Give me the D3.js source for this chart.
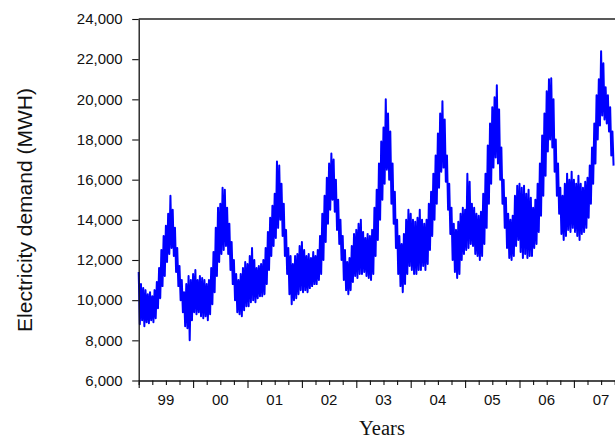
<!DOCTYPE html>
<html>
<head>
<meta charset="utf-8">
<script src="https://cdn.jsdelivr.net/npm/d3@7"></script>
<style>
  html, body { margin: 0; padding: 0; background: #fff; overflow: hidden; }
  svg { display: block; }
</style>
</head>
<body>
<svg id="chart" width="615" height="438"></svg>
<script>
// ---- Data (semi-monthly daily-high / daily-low readings, MWH) ----
const yearLabels = ["99", "00", "01", "02", "03", "04", "05", "06", "07"];
const firstYear = 1999;
const yTicks = [6000, 8000, 10000, 12000, 14000, 16000, 18000, 20000, 22000, 24000];

const hi99 = [11400,10800,10600,10500,10300,10400,10200,10500,10900,11600,12500,13200,13700,14300,15200,14500,13600,12600,11700,11000,10400,10800,11200,11000];
const lo99 = [8800,9000,8700,8900,8850,9000,8900,9100,9600,10100,10700,11200,11900,12300,12600,12200,11400,10700,10000,9400,8700,8600,8000,9000];
const hi00 = [11300,11500,11000,11200,11100,11000,10800,11000,11600,12400,13600,14600,14800,15600,15500,14600,13800,12900,12000,11300,11000,11300,11600,11900];
const lo00 = [9400,9300,9400,9200,9100,9200,9000,9300,9800,10400,11200,11900,12300,12500,12700,12300,11500,10800,10000,9400,9300,9200,9500,9700];
const hi01 = [11800,12200,12600,12000,11600,11700,11800,12000,12600,13400,14100,14700,15300,16900,16700,15800,14800,13500,12600,12200,11800,12200,12300,12700];
const lo01 = [9700,9900,10000,9900,10100,10200,10200,10300,10800,11500,12200,12700,13100,13600,14000,13200,12200,11300,10300,9800,10000,10100,10300,10500];
const hi02 = [12900,12500,12200,12300,12100,12400,12200,12500,13200,14300,15200,16100,16800,17300,17000,16000,15000,14000,13200,12500,11900,12100,12700,13300];
const lo02 = [10400,10500,10400,10600,10700,10800,10800,11000,11300,12000,12900,13800,14500,15000,14400,13500,12800,12000,11000,10500,10300,10500,10900,11200];
const hi03 = [13500,13800,14000,13400,13100,13300,13200,13500,14600,15500,16800,17900,18600,20000,19300,18400,16800,15400,14000,13200,12800,13300,14000,14500];
const lo03 = [11100,11300,11300,11400,11200,11100,11000,11300,12200,13000,14000,15000,15800,16500,16000,14800,13800,12600,11300,10700,10400,10800,11300,11700];
const hi04 = [14300,14000,13900,14100,14500,14000,13800,14000,14800,15400,16300,17200,18300,19300,19900,19000,17200,15800,14600,13800,13500,13900,14300,14600];
const lo04 = [11500,11300,11300,11500,11500,11700,11500,11800,12500,13200,14000,14800,15600,16400,16600,15900,14500,13300,12000,11400,11100,11300,12000,12300];
const hi05 = [14500,16300,15900,14800,14600,14300,14200,14400,15300,16300,17700,18800,19600,20100,20700,19500,17600,16000,15100,14300,14000,14200,15200,15700];
const lo05 = [12500,12600,12800,12700,12300,12200,12000,12200,12800,13600,14800,15800,16600,17100,16800,16000,14800,13600,12600,12100,12000,12200,12700,13000];
const hi06 = [15800,15600,15700,15300,15500,15100,14600,15000,15800,16800,18200,19300,20400,21000,21050,20000,18000,16800,15600,15200,15800,16300,16000,16400];
const lo06 = [12400,12100,12300,12100,12200,12200,12600,12800,13400,14200,15200,16200,17400,18000,17600,16400,15200,14300,13300,13000,13200,13500,13400,13600];
const hi07 = [16000,15800,16200,15800,15600,15900,16100,16700,17600,18800,20200,21000,22400,21800,20600,20200,19600,18400];
const lo07 = [13400,13200,13000,13300,13400,13600,14100,14800,15800,16800,18000,18700,19200,19000,18800,18400,17200,16700];

const hiSeries = [hi99, hi00, hi01, hi02, hi03, hi04, hi05, hi06, hi07];
const loSeries = [lo99, lo00, lo01, lo02, lo03, lo04, lo05, lo06, lo07];

// ---- Build points ----
const points = [];
hiSeries.forEach((hiArr, i) => {
  const loArr = loSeries[i];
  hiArr.forEach((h, k) => {
    const t = firstYear + i + k / 24;
    points.push([t, h]);
    points.push([t + 1 / 48, loArr[k]]);
  });
});

// ---- Layout ----
const svg = d3.select("#chart");
const plotLeft = 138.7, plotTop = 19, plotBottom = 380.5;
const yearWidth = 54.4;

const x = d3.scaleLinear()
  .domain([firstYear, firstYear + yearLabels.length])
  .range([plotLeft, plotLeft + yearWidth * yearLabels.length]);
const y = d3.scaleLinear().domain([6000, 24000]).range([plotBottom, plotTop]);

// series
svg.append("path")
  .datum(points)
  .attr("fill", "none")
  .attr("stroke", "#0000ff")
  .attr("stroke-width", 2)
  .attr("stroke-linejoin", "round")
  .attr("d", d3.line().x(d => x(d[0])).y(d => y(d[1])));

// top border
svg.append("line")
  .attr("x1", plotLeft).attr("x2", 615)
  .attr("y1", plotTop).attr("y2", plotTop)
  .attr("stroke", "#222").attr("stroke-width", 1.3);

// Y axis
const yAxis = svg.append("g")
  .attr("transform", `translate(${plotLeft},0)`)
  .call(d3.axisLeft(y).tickValues(yTicks).tickFormat(d3.format(",")).tickSize(6.5).tickPadding(9.5).tickSizeOuter(0));
yAxis.select(".domain").attr("stroke", "#111").attr("stroke-width", 1.3);
yAxis.selectAll(".tick line").attr("stroke", "#111").attr("stroke-width", 1.1);
yAxis.selectAll("text")
  .attr("font-family", "'Liberation Sans', Arial, sans-serif")
  .attr("font-size", 15).attr("fill", "#111");

// X axis: quarter ticks, longer at year boundaries
const quarterTicks = [];
for (let i = 0; i <= yearLabels.length * 4; i++) quarterTicks.push(firstYear + i / 4);
const xAxis = svg.append("g")
  .attr("transform", `translate(0,${plotBottom})`)
  .call(d3.axisBottom(x).tickValues(quarterTicks).tickFormat("").tickSizeOuter(0).tickSize(4.5));
xAxis.select(".domain").attr("stroke", "#111").attr("stroke-width", 1.3);
xAxis.selectAll(".tick line")
  .attr("stroke", "#111").attr("stroke-width", 1.1)
  .attr("y2", d => (Math.abs(d - Math.round(d)) < 1e-9 ? 7.5 : 4.5));

// year labels centred in each year
svg.append("g").selectAll("text")
  .data(yearLabels)
  .join("text")
  .attr("x", (d, i) => x(firstYear + i + 0.5))
  .attr("y", 405)
  .attr("text-anchor", "middle")
  .attr("font-family", "'Liberation Sans', Arial, sans-serif")
  .attr("font-size", 15).attr("fill", "#111")
  .text(d => d);

// axis titles
svg.append("text")
  .attr("transform", "translate(31.5,210) rotate(-90)")
  .attr("text-anchor", "middle")
  .attr("font-family", "'Liberation Sans', Arial, sans-serif")
  .attr("font-size", 21).attr("fill", "#111")
  .text("Electricity demand (MWH)");

svg.append("text")
  .attr("x", 382).attr("y", 435)
  .attr("text-anchor", "middle")
  .attr("font-family", "'Liberation Serif', 'Times New Roman', serif")
  .attr("font-size", 20.5).attr("fill", "#111")
  .text("Years");
</script>
</body>
</html>
